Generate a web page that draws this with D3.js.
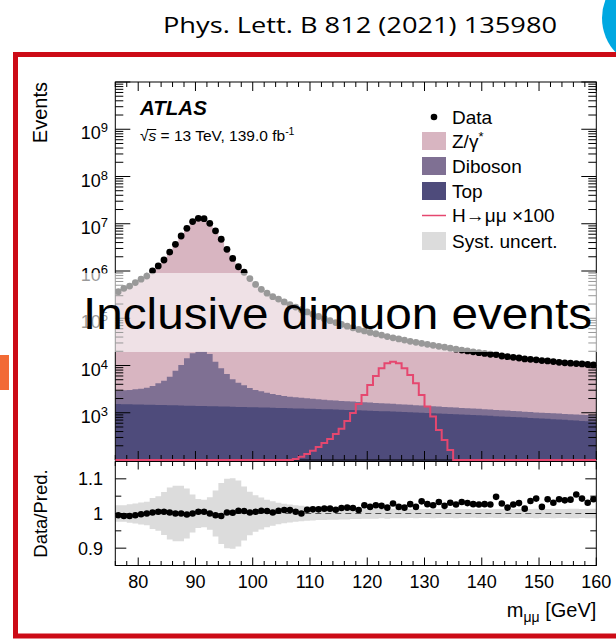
<!DOCTYPE html>
<html>
<head>
<meta charset="utf-8">
<script src="https://cdn.jsdelivr.net/npm/d3@7"></script>
<style>
  body { margin: 0; background: #fff; }
  svg { display: block; }
  text { font-family: "Liberation Sans", Arial, Helvetica, sans-serif; fill: #000; }
</style>
</head>
<body>
<svg id="chart" width="616" height="641"></svg>
<script>
// ---- binning: 1 GeV bins in m_mumu ----
const massEdges = [76,77,78,79,80,81,82,83,84,85,86,87,88,89,90,91,92,93,94,95,96,97,98,99,100,
  101,102,103,104,105,106,107,108,109,110,111,112,113,114,115,116,117,118,119,120,
  121,122,123,124,125,126,127,128,129,130,131,132,133,134,135,136,137,138,139,140,
  141,142,143,144,145,146,147,148,149,150,151,152,153,154,155,156,157,158,159,160];

// observed events per bin
const dataEvents = [365000,430000,480000,570000,670000,780000,1010000,1280000,1710000,2520000,
  3670000,5500000,8000000,11100000,13000000,12800000,10200000,7100000,4700000,2880000,
  1850000,1230000,940000,690000,520000,410000,340000,286000,255000,222000,
  195000,172000,152000,136000,122000,109000,98000,89000,81000,74000,
  68000,63000,58000,54000,50000,47000,44000,41000,38500,36500,
  34500,32500,31000,29500,28000,26700,25500,24400,23300,22200,
  21200,20300,19500,18700,18000,17300,17000,15900,15400,14900,
  14400,13800,13500,13200,12700,12500,12100,11700,11400,11200,
  11000,10800,10500,10300];

// background predictions per bin
const zGamma = [364000,430000,480000,570000,668000,777000,1003000,1269000,1697000,2507000,
  3662000,5490000,8010000,11080000,12915000,12716000,10182000,7124000,4724000,2865000,
  1841000,1216000,930000,685000,514000,404000,335000,283000,251000,217500,
  191000,169000,150000,132500,118600,105800,94800,85900,78300,71000,
  65100,60300,55700,51100,47400,44300,41500,38700,35900,34300,
  32400,30200,29000,27100,25900,24700,23300,22500,21300,20400,
  19300,18500,17800,17000,16300,15700,15100,14300,14000,13400,
  12900,12600,12000,11600,11500,11000,10800,10300,10000,9840,
  9500,9450,9290,9010];

const diboson = [1400,1460,1520,1630,1750,1920,2200,2740,3330,4360,
  6330,8780,12800,16700,18200,18200,16100,10600,7340,5250,
  3760,3000,2480,2030,1730,1550,1380,1220,1110,1000,
  945,885,845,800,765,730,700,670,645,620,
  600,580,565,555,540,525,515,500,490,475,
  460,450,435,420,410,395,385,375,370,360,
  350,345,335,325,320,310,300,295,285,280,
  270,260,255,250,248,245,243,240,238,235,
  233,232,232,230];

const topQuark = [1530,1520,1510,1500,1490,1480,1475,1465,1455,1445,
  1435,1425,1415,1405,1395,1385,1375,1370,1360,1350,
  1340,1330,1320,1310,1300,1295,1285,1275,1265,1255,
  1245,1235,1225,1220,1210,1200,1190,1180,1170,1160,
  1150,1140,1128,1116,1105,1093,1081,1070,1058,1046,
  1035,1023,1011,1000,988,976,965,953,941,930,
  918,906,895,883,871,860,848,836,825,813,
  801,790,778,766,755,743,731,720,708,696,
  685,673,661,650];

// H -> mumu signal, scaled by 100
const higgsX100 = [0,0,0,0,0,0,0,0,0,0,
  0,0,0,0,0,0,0,0,0,0,
  0,0,0,0,0,0,0,0,0,0,
  0,105,117,134,157,188,229,278,355,459,
  668,990,1530,2380,3860,6000,8700,11100,12000,11100,
  8700,6300,4200,2380,1350,830,430,265,163,0,
  0,0,0,0,0,0,0,0,0,0,
  0,0,0,0,0,0,0,0,0,0,
  0,0,0,0];

// data / prediction and relative systematic uncertainty
const ratio = [0.995,0.993,0.993,0.995,0.998,1.000,1.003,1.005,1.005,1.003,
  1.000,1.000,0.997,1.000,1.005,1.005,1.000,0.995,0.993,1.003,
  1.002,1.008,1.007,1.003,1.005,1.008,1.007,1.003,1.008,1.010,
  1.010,1.005,1.000,1.011,1.012,1.012,1.014,1.014,1.011,1.016,
  1.017,1.016,1.010,1.024,1.019,1.024,1.022,1.017,1.029,1.019,
  1.017,1.027,1.019,1.035,1.027,1.024,1.033,1.022,1.031,1.026,
  1.033,1.030,1.027,1.026,1.027,1.026,1.048,1.029,1.017,1.026,
  1.030,1.014,1.036,1.043,1.019,1.041,1.031,1.041,1.038,1.040,
  1.055,1.043,1.031,1.041];

const systRel = [0.024,0.024,0.027,0.029,0.032,0.034,0.045,0.050,0.062,0.075,
  0.080,0.080,0.072,0.055,0.042,0.040,0.047,0.066,0.088,0.100,
  0.102,0.095,0.078,0.063,0.053,0.046,0.040,0.035,0.031,0.028,
  0.026,0.024,0.022,0.021,0.020,0.019,0.019,0.018,0.018,0.017,
  0.017,0.016,0.016,0.015,0.015,0.015,0.014,0.015,0.014,0.014,
  0.014,0.013,0.014,0.013,0.013,0.014,0.013,0.013,0.013,0.014,
  0.013,0.013,0.012,0.013,0.013,0.012,0.013,0.013,0.012,0.013,
  0.013,0.012,0.013,0.014,0.013,0.013,0.014,0.013,0.013,0.014,
  0.014,0.013,0.014,0.014];

// axis labels
const xTickLabels = [80, 90, 100, 110, 120, 130, 140, 150, 160];
const yDecadeLabels = [3, 4, 5, 6, 7, 8, 9];
const ratioTickLabels = [0.9, 1.0, 1.1];

// legend entries
const legendEntries = [
  { label: "Data", kind: "marker" },
  { label: "Z/γ", sup: "*", kind: "box", color: "#d8b5c1" },
  { label: "Diboson", kind: "box", color: "#7f7093" },
  { label: "Top", kind: "box", color: "#4e4b7b" },
  { label: "H→μμ ×100", kind: "line", color: "#e5476f" },
  { label: "Syst. uncert.", kind: "box", color: "#dcdcdc" }
];

// ---- geometry ----
const X0 = 115.3, X1 = 596.3;
const MAIN_T = 82, MAIN_B = 460;
const RAT_T = 461.5, RAT_B = 565.5;

const svg = d3.select("#chart");

// slide decorations
svg.append("circle").attr("cx", 652).attr("cy", 18).attr("r", 50).attr("fill", "#00a8e1");
svg.append("rect").attr("x", 0).attr("y", 355).attr("width", 9).attr("height", 35).attr("fill", "#f26a35");
svg.append("rect").attr("x", 15.5).attr("y", 54.5).attr("width", 640).attr("height", 581.5)
  .attr("fill", "none").attr("stroke", "#cc0b16").attr("stroke-width", 5);
svg.append("text").attr("x", 163).attr("y", 33)
  .style("font-family", "'Open Sans', 'Noto Sans', sans-serif").style("font-size", "21px")
  .attr("fill", "#1a1a1a").attr("textLength", 394).attr("lengthAdjust", "spacingAndGlyphs")
  .text("Phys. Lett. B 812 (2021) 135980");

// ---- scales ----
const x = d3.scaleLinear().domain([76, 160]).range([X0, X1]);
const y = d3.scaleLog().domain([1e2, 1e10]).range([MAIN_B, MAIN_T]);
const yr = d3.scaleLinear().domain([0.85, 1.15]).range([RAT_B, RAT_T]);
const yMinVal = 1e2;

const defs = svg.append("defs");
defs.append("clipPath").attr("id", "mainClip").append("rect")
  .attr("x", X0).attr("y", MAIN_T).attr("width", X1 - X0).attr("height", MAIN_B - MAIN_T + 1);
defs.append("clipPath").attr("id", "ratClip").append("rect")
  .attr("x", X0).attr("y", RAT_T).attr("width", X1 - X0).attr("height", RAT_B - RAT_T);

// step helpers: a point at each low edge plus the closing edge
function stepPoints(vals) {
  const pts = vals.map((v, i) => ({ m: massEdges[i], v }));
  pts.push({ m: massEdges[massEdges.length - 1], v: vals[vals.length - 1] });
  return pts;
}
const yv = v => y(Math.max(v, yMinVal));

// ---- main panel ----
const main = svg.append("g").attr("clip-path", "url(#mainClip)");

const rows = massEdges.slice(0, -1).map((m, i) => ({
  top: topQuark[i], diboson: diboson[i], zgamma: zGamma[i]
}));
const stacked = d3.stack().keys(["top", "diboson", "zgamma"])(rows);
const stackColors = { top: "#4e4b7b", diboson: "#7f7093", zgamma: "#d8b5c1" };

const areaGen = d3.area()
  .curve(d3.curveStepAfter)
  .x(d => x(d.m))
  .y0(MAIN_B + 2)
  .y1(d => yv(d.v));

// draw cumulative layers from the outermost inwards
stacked.slice().reverse().forEach(layer => {
  const cum = layer.map(d => d[1]);
  main.append("path")
    .attr("d", areaGen(stepPoints(cum)))
    .attr("fill", stackColors[layer.key]);
});

// frame and ticks
const axes = svg.append("g").attr("stroke", "#000").attr("stroke-width", 1).attr("fill", "none");
axes.append("rect").attr("x", X0).attr("y", MAIN_T).attr("width", X1 - X0).attr("height", MAIN_B - MAIN_T);
axes.append("rect").attr("x", X0).attr("y", RAT_T).attr("width", X1 - X0).attr("height", RAT_B - RAT_T);

function xTicks(yTop, yBot, major, minor) {
  for (let m = 76; m <= 160; m += 2) {
    const len = m % 10 === 0 ? major : minor;
    const px = x(m);
    axes.append("line").attr("x1", px).attr("x2", px).attr("y1", yBot).attr("y2", yBot - len);
    axes.append("line").attr("x1", px).attr("x2", px).attr("y1", yTop).attr("y2", yTop + len);
  }
}
xTicks(MAIN_T, MAIN_B, 9, 5);
xTicks(RAT_T, RAT_B, 8, 4.5);

for (let e = 2; e <= 10; e++) {
  for (let k = 1; k <= 9; k++) {
    const v = k * Math.pow(10, e);
    if (v > 1e10) break;
    const py = y(v);
    const len = k === 1 ? 15 : 8;
    axes.append("line").attr("x1", X0).attr("x2", X0 + len).attr("y1", py).attr("y2", py);
    axes.append("line").attr("x1", X1).attr("x2", X1 - len).attr("y1", py).attr("y2", py);
  }
}

// signal histogram and data markers sit above the frame
const over = svg.append("g").attr("clip-path", "url(#mainClip)");
const lineGen = d3.line().curve(d3.curveStepAfter).x(d => x(d.m)).y(d => yv(d.v));
over.append("path")
  .attr("d", lineGen(stepPoints(higgsX100)))
  .attr("fill", "none").attr("stroke", "#e5476f").attr("stroke-width", 2);

over.selectAll("circle.data").data(dataEvents).enter().append("circle")
  .attr("cx", (d, i) => x(massEdges[i] + 0.5))
  .attr("cy", d => y(d))
  .attr("r", 3.4).attr("fill", "#000");

// ratio panel contents
const rat = svg.insert("g", "g").attr("clip-path", "url(#ratClip)");
const bandGen = d3.area().curve(d3.curveStepAfter)
  .x(d => x(d.m)).y0(d => yr(1 - d.v)).y1(d => yr(1 + d.v));
rat.append("path").attr("d", bandGen(stepPoints(systRel))).attr("fill", "#dcdcdc");
rat.append("line").attr("x1", X0).attr("x2", X1).attr("y1", yr(1)).attr("y2", yr(1))
  .attr("stroke", "#555").attr("stroke-width", 1).attr("stroke-dasharray", "6,4");

const ratPts = svg.append("g").attr("clip-path", "url(#ratClip)");
ratPts.selectAll("circle.ratio").data(ratio).enter().append("circle")
  .attr("cx", (d, i) => x(massEdges[i] + 0.5))
  .attr("cy", d => yr(d))
  .attr("r", 3.3).attr("fill", "#000");

[0.85, 0.9, 0.95, 1.0, 1.05, 1.1, 1.15].forEach(v => {
  const major = Math.abs(Math.round(v * 10) - v * 10) < 1e-6;
  const len = major ? 11 : 6;
  const py = yr(v);
  axes.append("line").attr("x1", X0).attr("x2", X0 + len).attr("y1", py).attr("y2", py);
  axes.append("line").attr("x1", X1).attr("x2", X1 - len).attr("y1", py).attr("y2", py);
});

// ---- labels ----
const labels = svg.append("g");
xTickLabels.forEach(m => {
  labels.append("text").attr("x", x(m)).attr("y", 587.5).attr("text-anchor", "middle")
    .style("font-size", "18px").text(m);
});
yDecadeLabels.forEach(e => {
  const t = labels.append("text").attr("x", 108).attr("y", y(Math.pow(10, e)) + 10)
    .attr("text-anchor", "end").style("font-size", "18px");
  t.append("tspan").text("10");
  t.append("tspan").attr("dy", -7).style("font-size", "13px").text(e);
});
ratioTickLabels.forEach(v => {
  labels.append("text").attr("x", 103).attr("y", yr(v) + 6.5).attr("text-anchor", "end")
    .style("font-size", "18px").text(v === 1 ? "1" : d3.format(".1f")(v));
});

labels.append("text").attr("transform", `translate(46.5,${MAIN_T}) rotate(-90)`)
  .attr("text-anchor", "end").style("font-size", "20px").text("Events");
labels.append("text").attr("transform", `translate(46.5,${(RAT_T + RAT_B) / 2}) rotate(-90)`)
  .attr("text-anchor", "middle").style("font-size", "18.5px").text("Data/Pred.");

const xt = labels.append("text").attr("x", X1).attr("y", 617).attr("text-anchor", "end")
  .style("font-size", "20px");
xt.append("tspan").text("m");
xt.append("tspan").attr("dy", 5).style("font-size", "14px").text("μμ");
xt.append("tspan").attr("dy", -5).text(" [GeV]");

// ATLAS label
labels.append("text").attr("x", 140).attr("y", 115)
  .style("font-size", "20.5px").style("font-weight", "bold").style("font-style", "italic").text("ATLAS");
const lumi = labels.append("text").attr("x", 140).attr("y", 141).style("font-size", "15.5px");
lumi.append("tspan").text("√");
lumi.append("tspan").style("font-style", "italic").text("s");
lumi.append("tspan").text(" = 13 TeV, 139.0 fb");
lumi.append("tspan").attr("dy", -6).style("font-size", "10.5px").text("-1");
{
  const node = lumi.node();
  const ext = node.getExtentOfChar(1);
  const rootExt = node.getExtentOfChar(0);
  labels.append("line")
    .attr("x1", rootExt.x + rootExt.width - 1.5).attr("x2", ext.x + ext.width)
    .attr("y1", 129.5).attr("y2", 129.5).attr("stroke", "#000").attr("stroke-width", 1);
}

// legend
const lg = svg.append("g");
const rowY = [117, 141, 166, 191, 215.5, 241];
legendEntries.forEach((d, i) => {
  const cy = rowY[i];
  if (d.kind === "marker") {
    lg.append("circle").attr("cx", 434).attr("cy", cy).attr("r", 3.3).attr("fill", "#000");
  } else if (d.kind === "box") {
    lg.append("rect").attr("x", 422).attr("y", cy - 9).attr("width", 24).attr("height", 18).attr("fill", d.color);
  } else {
    lg.append("line").attr("x1", 422).attr("x2", 446).attr("y1", cy).attr("y2", cy)
      .attr("stroke", d.color).attr("stroke-width", 1.5);
  }
  const t = lg.append("text").attr("x", 452).attr("y", cy + 6.8).style("font-size", "19px");
  t.append("tspan").text(d.label);
  if (d.sup) t.append("tspan").attr("dy", -7).style("font-size", "13px").text(d.sup);
});

// translucent title band across the upper panel
svg.append("rect").attr("x", 20).attr("y", 273).attr("width", 596).attr("height", 79)
  .attr("fill", "#fff").attr("fill-opacity", 0.6);
svg.append("text").attr("x", 83).attr("y", 329)
  .style("font-size", "45px").attr("textLength", 509).attr("lengthAdjust", "spacingAndGlyphs")
  .text("Inclusive dimuon events");
</script>
</body>
</html>
